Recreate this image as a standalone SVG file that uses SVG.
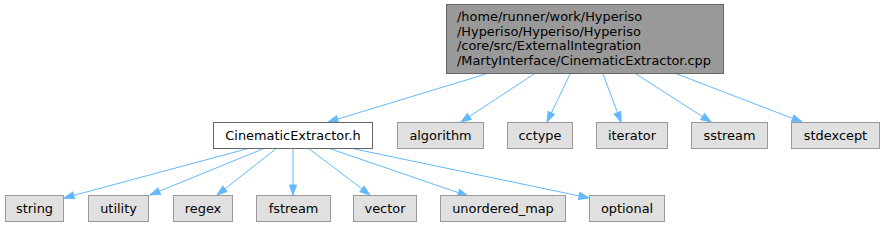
<svg xmlns="http://www.w3.org/2000/svg" width="883" height="227" viewBox="0 0 883 227">
<style>
text{font-family:"DejaVu Sans","Liberation Sans",sans-serif;font-size:12.9px;fill:#000}
.n rect{fill:#e0e0e0;stroke:#999999;stroke-width:1}
.h rect{fill:#ffffff;stroke:#666666;stroke-width:1}
.m rect{fill:#999999;stroke:#666666;stroke-width:1}
.c{text-anchor:middle}
#edges path{fill:none;stroke:#63b8ff;stroke-width:1;marker-end:url(#a)}
</style>
<defs>
<marker id="a" markerUnits="userSpaceOnUse" markerWidth="12" markerHeight="12" viewBox="0 0 12 12" refX="11" refY="6" orient="auto">
<path d="M1,2.5 L11,6 L1,9.5 Z" fill="#63b8ff" stroke="#63b8ff"/>
</marker>
</defs>
<rect width="883" height="227" fill="#ffffff"/>
<g id="edges">
<path d="M486,74 L328,122"/>
<path d="M534,74 L461,122"/>
<path d="M570,74 L547,122"/>
<path d="M603,74 L621,122"/>
<path d="M636,74 L711,122"/>
<path d="M677,74 L802,122"/>
<path d="M250,148 L64,198"/>
<path d="M265,148 L150,195"/>
<path d="M277,148 L217,195"/>
<path d="M293,148 L293,195"/>
<path d="M308,148 L370,195"/>
<path d="M328,148 L468,196"/>
<path d="M350,148 L589,198"/>
</g>
<g id="main" class="m">
<rect x="446.5" y="4.5" width="277" height="69"/>
<text x="457" y="21">/home/runner/work/Hyperiso</text>
<text x="457" y="35.7">/Hyperiso/Hyperiso/Hyperiso</text>
<text x="457" y="50.4">/core/src/ExternalIntegration</text>
<text x="457" y="65.1">/MartyInterface/CinematicExtractor.cpp</text>
</g>
<g id="CinematicExtractor_h" class="h">
<rect x="213.5" y="122.5" width="159" height="26"/>
<text class="c" x="293" y="140">CinematicExtractor.h</text>
</g>
<g id="algorithm" class="n">
<rect x="397.5" y="122.5" width="86" height="26"/>
<text class="c" x="440.5" y="140">algorithm</text>
</g>
<g id="cctype" class="n">
<rect x="507.5" y="122.5" width="65" height="26"/>
<text class="c" x="540" y="140">cctype</text>
</g>
<g id="iterator" class="n">
<rect x="596.5" y="122.5" width="71" height="26"/>
<text class="c" x="632" y="140">iterator</text>
</g>
<g id="sstream" class="n">
<rect x="691.5" y="122.5" width="76" height="26"/>
<text class="c" x="729.5" y="140">sstream</text>
</g>
<g id="stdexcept" class="n">
<rect x="791.5" y="122.5" width="88" height="26"/>
<text class="c" x="835.5" y="140">stdexcept</text>
</g>
<g id="string" class="n">
<rect x="5.5" y="195.5" width="58" height="26"/>
<text class="c" x="34.5" y="213">string</text>
</g>
<g id="utility" class="n">
<rect x="88.5" y="195.5" width="60" height="26"/>
<text class="c" x="118.5" y="213">utility</text>
</g>
<g id="regex" class="n">
<rect x="173.5" y="195.5" width="59" height="26"/>
<text class="c" x="203" y="213">regex</text>
</g>
<g id="fstream" class="n">
<rect x="256.5" y="195.5" width="74" height="26"/>
<text class="c" x="293.5" y="213">fstream</text>
</g>
<g id="vector" class="n">
<rect x="353.5" y="195.5" width="63" height="26"/>
<text class="c" x="385" y="213">vector</text>
</g>
<g id="unordered_map" class="n">
<rect x="440.5" y="195.5" width="125" height="26"/>
<text class="c" x="503" y="213">unordered_map</text>
</g>
<g id="optional" class="n">
<rect x="589.5" y="195.5" width="75" height="26"/>
<text class="c" x="627" y="213">optional</text>
</g>
</svg>
